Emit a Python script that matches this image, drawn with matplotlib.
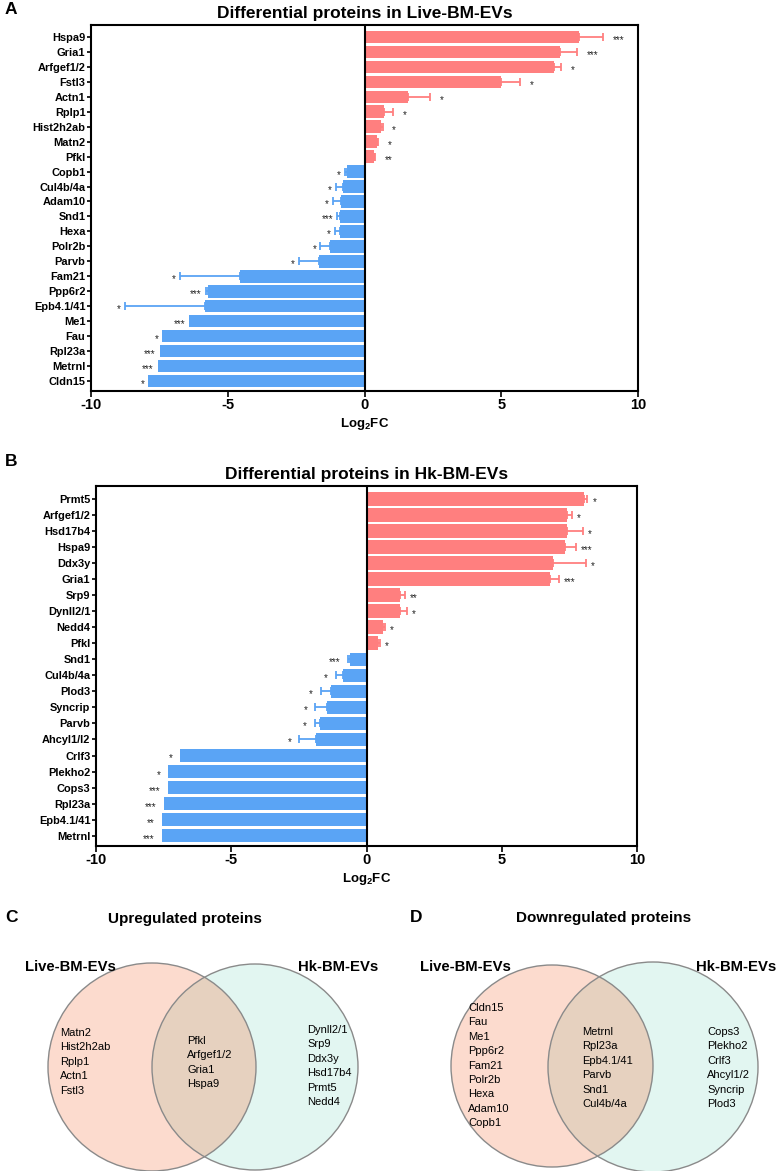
import matplotlib
matplotlib.use("Agg")
import matplotlib.pyplot as plt
from matplotlib.patches import Circle

plt.rcParams['font.family'] = ['Liberation Sans', 'DejaVu Sans']
plt.rcParams['mathtext.fontset'] = 'custom'
plt.rcParams['mathtext.rm'] = 'Liberation Sans:bold'
plt.rcParams['mathtext.bf'] = 'Liberation Sans:bold'

# ---------------- data ----------------
a_labels = ['Hspa9', 'Gria1', 'Arfgef1/2', 'Fstl3', 'Actn1', 'Rplp1', 'Hist2h2ab', 'Matn2', 'Pfkl',
            'Copb1', 'Cul4b/4a', 'Adam10', 'Snd1', 'Hexa', 'Polr2b', 'Parvb', 'Fam21', 'Ppp6r2',
            'Epb4.1/41', 'Me1', 'Fau', 'Rpl23a', 'Metrnl', 'Cldn15']
a_values = [7.84, 7.14, 6.92, 4.98, 1.58, 0.73, 0.59, 0.44, 0.35,
            -0.63, -0.79, -0.85, -0.91, -0.91, -1.25, -1.66, -4.55, -5.72,
            -5.85, -6.40, -7.39, -7.49, -7.56, -7.90]
a_errors = [0.88, 0.63, 0.28, 0.70, 0.82, 0.33, 0.07, 0.05, 0.05,
            0.10, 0.24, 0.31, 0.09, 0.16, 0.36, 0.74, 2.21, 0.08,
            2.90, 0.0, 0.0, 0.0, 0.0, 0.0]
a_stars = ['***', '***', '*', '*', '*', '*', '*', '*', '**',
           '*', '*', '*', '***', '*', '*', '*', '*', '***',
           '*', '***', '*', '***', '***', '*']

b_labels = ['Prmt5', 'Arfgef1/2', 'Hsd17b4', 'Hspa9', 'Ddx3y', 'Gria1', 'Srp9', 'Dynll2/1', 'Nedd4',
            'Pfkl', 'Snd1', 'Cul4b/4a', 'Plod3', 'Syncrip', 'Parvb', 'Ahcyl1/l2', 'Crlf3', 'Plekho2',
            'Cops3', 'Rpl23a', 'Epb4.1/41', 'Metrnl']
b_values = [8.05, 7.42, 7.40, 7.33, 6.90, 6.80, 1.25, 1.25, 0.60,
            0.42, -0.62, -0.86, -1.30, -1.46, -1.73, -1.85, -6.90, -7.33,
            -7.33, -7.50, -7.56, -7.57]
b_errors = [0.12, 0.18, 0.61, 0.43, 1.22, 0.32, 0.18, 0.25, 0.07,
            0.08, 0.05, 0.28, 0.40, 0.43, 0.18, 0.65, 0.0, 0.0,
            0.0, 0.0, 0.0, 0.0]
b_stars = ['*', '*', '*', '***', '*', '***', '**', '*', '*',
           '*', '***', '*', '*', '*', '*', '*', '*', '*',
           '***', '***', '**', '***']

x_ticks = [-10, -5, 0, 5, 10]

up_live_only = ['Matn2', 'Hist2h2ab', 'Rplp1', 'Actn1', 'Fstl3']
up_shared = ['Pfkl', 'Arfgef1/2', 'Gria1', 'Hspa9']
up_hk_only = ['Dynll2/1', 'Srp9', 'Ddx3y', 'Hsd17b4', 'Prmt5', 'Nedd4']
down_live_only = ['Cldn15', 'Fau', 'Me1', 'Ppp6r2', 'Fam21', 'Polr2b', 'Hexa', 'Adam10', 'Copb1']
down_shared = ['Metrnl', 'Rpl23a', 'Epb4.1/41', 'Parvb', 'Snd1', 'Cul4b/4a']
down_hk_only = ['Cops3', 'Plekho2', 'Crlf3', 'Ahcyl1/2', 'Syncrip', 'Plod3']

POS = '#FF7F7F'
NEG = '#5AA4F5'

W, H = 777, 1171
fig = plt.figure(figsize=(W / 100, H / 100), dpi=100)


def px_axes(l, t, r, b):
    return fig.add_axes([l / W, 1 - b / H, (r - l) / W, (b - t) / H])


def bar_panel(ax, labels, values, errors, stars, title, top_m, bot_m, gpos, gneg):
    n = len(labels)
    ys = list(range(n))
    colors = [POS if v > 0 else NEG for v in values]
    ax.barh(ys, values, height=0.84, color=colors, zorder=2)
    for y, v, e, c, s in zip(ys, values, errors, colors, stars):
        sign = 1 if v > 0 else -1
        if e > 0:
            xe = [[0], [e]] if v > 0 else [[e], [0]]
            ax.errorbar([v], [y], xerr=xe, fmt='none', ecolor=c, elinewidth=1.3,
                        capsize=3, capthick=1.3, zorder=3)
        end = v + sign * e
        off = gpos if v > 0 else -gneg
        ax.annotate(s, (end, y), xytext=(off, -2.2), textcoords='offset points',
                    ha='left' if v > 0 else 'right', va='center', fontsize=7, color='#222222')
    ax.axvline(0, color='black', lw=1.5, zorder=4)
    ax.set_xlim(-10, 10)
    ax.set_ylim(n - 1 + bot_m, -top_m)
    ax.set_yticks(ys)
    ax.set_yticklabels(labels, fontsize=7.9, fontweight='bold')
    ax.set_xticks(x_ticks)
    ax.set_xticklabels([str(t) for t in x_ticks], fontsize=10.5, fontweight='bold')
    ax.tick_params(axis='y', length=3, width=1.2, pad=1)
    ax.tick_params(axis='x', length=4, width=1.2, pad=1)
    for sp in ax.spines.values():
        sp.set_linewidth(1.5)
    ax.set_xlabel(r'Log$_{2}$FC', fontsize=9.5, fontweight='bold', labelpad=3)
    ax.set_title(title, fontsize=12.5, fontweight='bold', pad=5)


axA = px_axes(91, 25, 638, 391)
bar_panel(axA, a_labels, a_values, a_errors, a_stars, 'Differential proteins in Live-BM-EVs',
          0.8, 0.67, 7, 3)
axB = px_axes(96, 486, 637, 846)
bar_panel(axB, b_labels, b_values, b_errors, b_stars, 'Differential proteins in Hk-BM-EVs',
          0.8, 0.64, 3.5, 5.5)

# ---------------- Venn diagrams ----------------
ov = fig.add_axes([0, 0, 1, 1])
ov.set_xlim(0, W)
ov.set_ylim(H, 0)
ov.axis('off')
ov.patch.set_alpha(0)

LC, RC, OC, EC = '#FCDBCE', '#E2F6F1', '#E6D1BF', '#8A8A8A'


def venn(c1, r1, c2, r2, title, tx, ty, left_items, shared, right_items,
         lx, ly, sx, sy, rx, ry, live_x, hk_x):
    p1 = Circle(c1, r1, facecolor=LC, edgecolor='none', zorder=1)
    p2 = Circle(c2, r2, facecolor=RC, edgecolor='none', zorder=1)
    ov.add_patch(p1)
    ov.add_patch(p2)
    p3 = Circle(c1, r1, facecolor=OC, edgecolor='none', zorder=2)
    ov.add_patch(p3)
    p3.set_clip_path(Circle(c2, r2, transform=ov.transData))
    ov.add_patch(Circle(c1, r1, facecolor='none', edgecolor=EC, lw=1.0, zorder=3))
    ov.add_patch(Circle(c2, r2, facecolor='none', edgecolor=EC, lw=1.0, zorder=3))
    ov.text(tx, ty, title, ha='center', va='center', fontsize=11, fontweight='bold')
    ov.text(live_x, 967, 'Live-BM-EVs', ha='left', va='center', fontsize=10.7,
            fontweight='bold', zorder=5)
    ov.text(hk_x, 967, 'Hk-BM-EVs', ha='right', va='center', fontsize=10.7,
            fontweight='bold', zorder=5)
    step = 14.4
    for items, x0, y0 in ((left_items, lx, ly), (shared, sx, sy), (right_items, rx, ry)):
        for i, s in enumerate(items):
            ov.text(x0, y0 + i * step, s, ha='left', va='center', fontsize=8, zorder=5)


venn((152, 1067), 104, (255, 1067), 103, 'Upregulated proteins', 185, 919,
     up_live_only, up_shared, up_hk_only, 60, 1033, 187, 1041, 307, 1030, 25, 378)
venn((552, 1066), 101, (653, 1067), 105, 'Downregulated proteins', 604, 918,
     down_live_only, down_shared, down_hk_only, 468, 1008, 582, 1032, 707, 1032, 420, 776)

for lbl, x, y in (('A', 5, 10), ('B', 5, 462), ('C', 5, 918), ('D', 410, 918)):
    ov.text(x, y, lbl, ha='left', va='center', fontsize=12.5, fontweight='bold')

fig.savefig('out.png', dpi=100)
